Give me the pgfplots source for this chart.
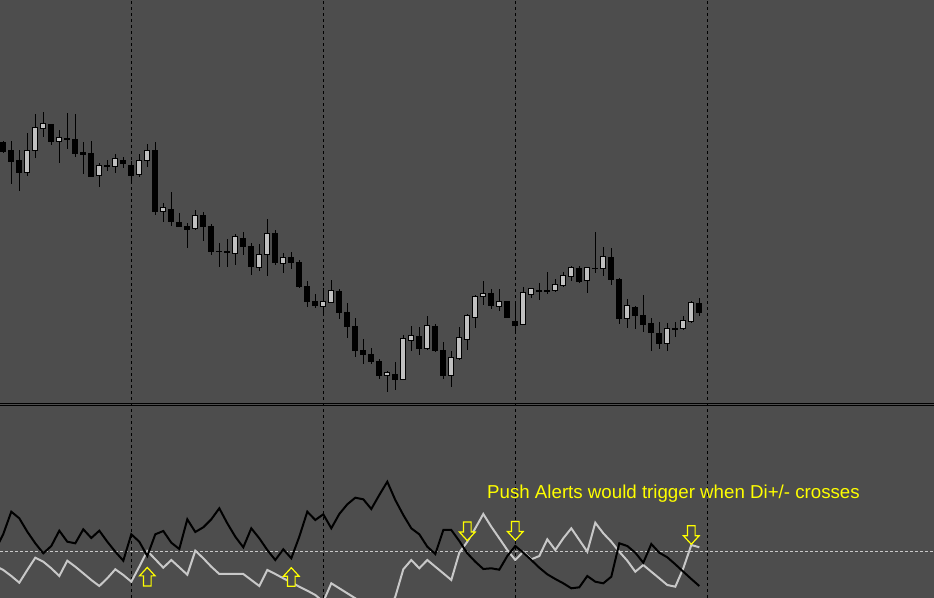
\documentclass[border=0pt]{standalone}
\usepackage{fontspec}
\setmainfont{Liberation Sans}
\usepackage{pgfplots}
\pgfplotsset{compat=1.18}
\usepackage{pgfplotstable}

\definecolor{bgc}{RGB}{77,77,77}
\definecolor{candlelight}{RGB}{192,192,192}
\definecolor{dilight}{RGB}{200,200,200}
\definecolor{alerty}{RGB}{255,255,0}

\pgfdeclareplotmark{uparr}{%
  \pgfpathmoveto{\pgfpoint{0bp}{9.3bp}}%
  \pgfpathlineto{\pgfpoint{7.8bp}{0.8bp}}%
  \pgfpathlineto{\pgfpoint{3.8bp}{0.8bp}}%
  \pgfpathlineto{\pgfpoint{3.8bp}{-9.3bp}}%
  \pgfpathlineto{\pgfpoint{-3.8bp}{-9.3bp}}%
  \pgfpathlineto{\pgfpoint{-3.8bp}{0.8bp}}%
  \pgfpathlineto{\pgfpoint{-7.8bp}{0.8bp}}%
  \pgfpathclose
  \pgfusepathqfillstroke}
\pgfdeclareplotmark{downarr}{%
  \pgfpathmoveto{\pgfpoint{0bp}{-9.3bp}}%
  \pgfpathlineto{\pgfpoint{7.8bp}{-0.8bp}}%
  \pgfpathlineto{\pgfpoint{3.8bp}{-0.8bp}}%
  \pgfpathlineto{\pgfpoint{3.8bp}{9.3bp}}%
  \pgfpathlineto{\pgfpoint{-3.8bp}{9.3bp}}%
  \pgfpathlineto{\pgfpoint{-3.8bp}{-0.8bp}}%
  \pgfpathlineto{\pgfpoint{-7.8bp}{-0.8bp}}%
  \pgfpathclose
  \pgfusepathqfillstroke}

% bearish candles (black)
\pgfplotstableread{
i o h l c
0 457.3 459.3 446.7 448
1 449.3 459 416 438.3
2 440 450 409.3 427.3
6 476 476 455 458
8 462 487 451 460
9 461 486 443.3 446
10 447.3 458.3 426 445.3
11 447 459 423 423
13 435 440 429.3 433.7
15 440 443 432 436.3
16 435 439 416 424.3
19 450 458 385 388.3
21 391 408.3 374 378.3
22 378 387 372.7 373.3
23 374 377.3 352.3 370.7
25 385 388 359.3 373.3
26 374 376 345 348.3
27 349 357.3 333.3 348.3
28 348.7 361.3 333.3 347.7
30 362 368 345 353.3
31 354 357 325 333.3
34 367 370 335.3 337.3
36 343 348 331.3 337.3
37 338 340 312.3 313.3
38 314 319 293.3 298.3
39 298.7 306 291.7 294.3
42 309 311 281.3 287.3
43 288 297 262.3 273.3
44 274 282 243.3 249.3
45 250 261 236.3 245.3
46 246 252.3 236.3 238.3
47 239 241 221.3 224.3
49 226 238 210.3 220.3
52 263.7 272.7 245.3 251.3
54 273.7 275.7 248.3 249.3
55 249.7 257.7 221.3 224.3
61 307 311 291.3 294.3
63 298.7 299 282 282.3
64 279 299.3 266.7 274.3
67 309.7 316.7 300 308.7
68 309.7 328 306 308.3
72 331.7 334 317 318
74 332 368 326.7 331
76 342.7 352 315 320
77 321 322 276 281
79 293 294.3 271 284
80 284.7 305 268 275
81 276.7 281.7 249.3 267
82 267 278 251 256
84 271.3 277.7 263.3 270.3
87 296.7 302 284.3 287
}\bear

% bullish candles (light)
\pgfplotstableread{
i o h l c
3 427.3 467.3 424 449
4 449.3 486 442.3 472
5 471.3 488 463.3 476
7 458.3 470 437.3 462
12 424.3 437.3 413 434
14 433.7 446 427.3 440.7
17 425.3 446 422.7 438.7
18 439.3 456 433.3 449
20 388.3 396.7 378.3 391.7
24 371.3 390 370 384
29 346.7 366 335 362.7
32 332.3 356 329.3 345
33 345.3 381.3 324.3 365.7
35 336.3 347.3 327.3 342
40 293.3 311.7 284 297.7
41 297.7 320 297.7 309
48 224.3 229 208.3 226.7
50 220.3 264.7 220.3 260.7
51 259.3 274 249 263.7
53 251.3 283.7 250.3 273.7
56 224.3 248.7 213.3 241.7
57 241.3 272.7 240.3 261.7
58 260.7 285.7 250.3 283.7
59 282.7 305.3 272.3 302.7
60 303.3 318.7 295 306
62 293.3 310.7 289.3 298
65 276 312.7 275 306.7
66 305.7 312 302.3 310.7
69 309.3 321 308 314.7
70 314.3 327.7 313.3 323.7
71 323.3 334 319 331.7
73 319.3 333.3 307.3 331.7
75 331.3 353 324 342.7
78 281.3 301 272.3 293.7
83 256.3 276.7 249.3 270.7
85 271.3 283.7 270 278.7
86 278.3 299 277.3 296.7
}\bull

% DI lines (w = light, b = black)
\pgfplotstableread{
i w b
-1 32 48
0 28 64
1 22 86.3
2 15.3 79.7
3 28 66.3
4 40.3 54.7
5 36.3 44.7
6 29.7 52
7 22 67.3
8 37.3 56.3
9 31.3 54.7
10 24.7 68.7
11 18 60
12 12 67.3
13 19.7 56.3
14 28.7 46.3
15 23 37.3
16 16.3 63.7
17 31.3 56.3
18 47 42
19 38.7 63.7
20 30.3 67
21 38 55.3
22 30.7 49
23 23.3 78.7
24 47.3 66
25 39.7 70.7
26 31.3 78.7
27 24 89.7
28 24 74.7
29 24 61.3
30 24 50.7
31 18 69.7
32 12 59.7
33 28 48
34 24 38
35 19.7 48.7
36 15.7 39.7
37 11.3 61.3
38 7.3 86.3
39 3 78
40 -3.7 83.7
41 14.7 69.7
42 9.7 84
43 4.7 93.7
44 -0.3 100.3
45 -5.3 98.7
46 -8.7 89
47 -12 103
48 -15.3 116.3
49 1.3 98
50 28.7 83
51 38 69.7
52 29.7 63.7
53 38 51.3
54 31.3 44
55 24.7 68
56 18 68
57 45.3 57
58 56.3 44.7
59 69.7 36.3
60 84 29
61 71.3 29.7
62 59.7 28.3
63 48 42
64 38 52
65 46.3 45.3
66 38.7 38
67 42 30.3
68 58.7 23.7
69 48 19
70 59.7 14.7
71 69.7 9.7
72 58 10.7
73 46.3 22
74 75.3 16.3
75 64.7 14.7
76 56.3 21.3
77 46.3 54.7
78 37.3 52
79 26.3 45.3
80 33 35.3
81 26.3 54
82 19.7 45.3
83 13 40.7
84 11.3 33.7
85 29.7 26.3
86 53 19
87 50.7 12
}\di

\begin{document}
\begin{tikzpicture}
\pgfplotsset{
  base/.style={
    scale only axis, width=934bp,
    xmin=-0.4125, xmax=116.3375,
    axis background/.style={fill=bgc},
    axis line style={draw=none},
    xtick={16,40,64,88}, xticklabels={},
    xticklabel style={inner sep=0pt, outer sep=0pt},
    major tick length=0pt,
    xmajorgrids,
    major grid style={black, line width=1bp, dash pattern=on 3bp off 3bp},
    ytick=\empty,
  },
  ebar/.style 2 args={draw=none, mark=none, forget plot,
    error bars/.cd, y dir=both, y explicit, error mark=none,
    error bar style={draw=#1, solid, line width=#2}},
}
\begin{axis}[base, height=400bp, ymin=200, ymax=600, at={(0,198bp)}, anchor=south west]
  % wicks
  \addplot[ebar={black}{1bp}] table[x=i, y expr={(\thisrow{h}+\thisrow{l})/2}, y error expr={(\thisrow{h}-\thisrow{l})/2}] {\bear};
  \addplot[ebar={black}{1bp}] table[x=i, y expr={(\thisrow{h}+\thisrow{l})/2}, y error expr={(\thisrow{h}-\thisrow{l})/2}] {\bull};
  % bodies
  \addplot[ebar={black}{5.8bp}]
    table[x=i, y expr={(\thisrow{o}+\thisrow{c})/2}, y error expr={(\thisrow{o}-\thisrow{c})/2+0.4}] {\bear};
  \addplot[ebar={black}{5.8bp}]
    table[x=i, y expr={(\thisrow{o}+\thisrow{c})/2}, y error expr={(\thisrow{c}-\thisrow{o})/2+0.8}] {\bull};
  \addplot[ebar={candlelight}{3.8bp}]
    table[x=i, y expr={(\thisrow{o}+\thisrow{c})/2}, y error expr={max((\thisrow{c}-\thisrow{o})/2-0.2,0)}] {\bull};
\end{axis}
\begin{axis}[base, height=198bp, ymin=0, ymax=198, at={(0,0)}, anchor=south west,
    extra y ticks={192.7,194.7}, extra y tick labels={},
    extra y tick style={ymajorgrids=true, major grid style={solid, black, line width=1bp}}]
  \addplot[dilight, line width=1bp, dash pattern=on 3bp off 2bp, forget plot] coordinates {(-1,46) (117,46)};
  \addplot[dilight, line width=2bp, mark=none] table[x=i, y=w] {\di};
  \addplot[black, line width=2bp, mark=none] table[x=i, y=b] {\di};
  \addplot[only marks, mark=uparr, mark options={draw=alerty, fill=bgc, line width=1.2bp, solid}] coordinates {(18,21.3) (36,21)};
  \addplot[only marks, mark=downarr, mark options={draw=alerty, fill=bgc, line width=1.2bp, solid}] coordinates {(58,66.7) (64,67.2) (86,63)};
  \node[anchor=base west, inner sep=0pt, text=alerty, font=\fontsize{18.7bp}{21bp}\selectfont] at (axis cs:60.46,99.7) {Push Alerts would trigger when Di+/- crosses};
\end{axis}
\pgfresetboundingbox
\useasboundingbox (0,0) rectangle (934bp,598bp);
\end{tikzpicture}
\end{document}
